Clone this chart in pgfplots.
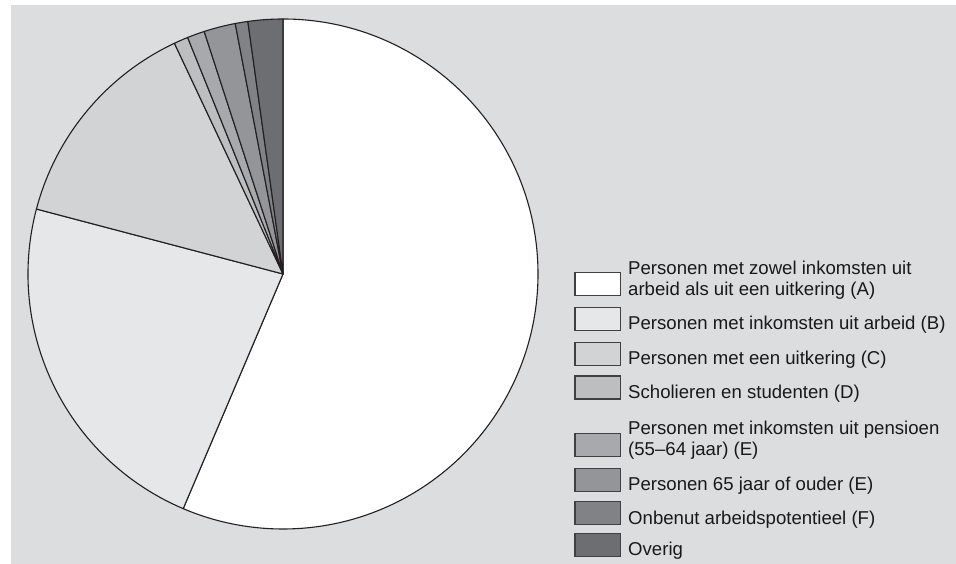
\documentclass[border=0pt]{standalone}
\usepackage{pgfplots}
\pgfplotsset{compat=1.18}
\usepackage{pgfplotstable}
\usepackage{fontspec}
\setmainfont{Liberation Sans}
\definecolor{bg}{RGB}{220,221,223}
\definecolor{c0}{RGB}{255,255,255}
\definecolor{c1}{RGB}{230,231,232}
\definecolor{c2}{RGB}{209,211,212}
\definecolor{c3}{RGB}{188,190,192}
\definecolor{c4}{RGB}{167,169,172}
\definecolor{c5}{RGB}{147,149,152}
\definecolor{c6}{RGB}{128,130,133}
\definecolor{c7}{RGB}{109,110,113}
\definecolor{edge}{RGB}{35,31,32}
% share of each group, percent (clockwise from the top)
\pgfplotstableread{
group value
A 56.4
B 22.7
C 13.9
D 0.9
E1 1.1
E2 2.0
F 0.8
Overig 2.2
}\piedata
\def\cum{90}
\pgfplotstableforeachcolumnelement{value}\of\piedata\as\v{%
  \pgfmathsetmacro\nxt{\cum-3.6*\v}%
  \expandafter\xdef\csname a\pgfplotstablerow\endcsname{\cum}%
  \expandafter\xdef\csname b\pgfplotstablerow\endcsname{\nxt}%
  \xdef\cum{\nxt}%
}
\begin{document}
\begin{tikzpicture}
\begin{axis}[
  x=1pt, y=1pt,
  xmin=0, xmax=956, ymin=0, ymax=564,
  hide axis, clip=false,
  at={(0,0)}, anchor=origin,
]
\path (axis cs:0,0) rectangle (axis cs:956,564);
\fill[bg] (axis cs:11,0) rectangle (axis cs:956,559);
\pgfplotsinvokeforeach{0,...,7}{%
  \filldraw[fill=c#1, draw=edge, line width=1.1pt, line join=round]
    (axis cs:283,290) -- ++(\csname a#1\endcsname:255pt)
    arc[start angle=\csname a#1\endcsname, end angle=\csname b#1\endcsname, radius=255pt] -- cycle;
}
\tikzset{lbox/.style={draw=black!75, line width=1.1pt}, ltxt/.style={anchor=base west, inner sep=0pt, font=\fontsize{18.6}{21.5}\selectfont, text=black!90}}
% legend
\filldraw[lbox, fill=c0] (axis cs:575,268.3) rectangle (axis cs:620.5,291.3);
\node[ltxt] at (axis cs:628,289.5) {Personen met zowel inkomsten uit};
\node[ltxt] at (axis cs:628,268) {arbeid als uit een uitkering (A)};
\filldraw[lbox, fill=c1] (axis cs:575,233.7) rectangle (axis cs:620.5,256.7);
\node[ltxt] at (axis cs:628,234) {Personen met inkomsten uit arbeid (B)};
\filldraw[lbox, fill=c2] (axis cs:575,198.7) rectangle (axis cs:620.5,221.7);
\node[ltxt] at (axis cs:628,199) {Personen met een uitkering (C)};
\filldraw[lbox, fill=c3] (axis cs:575,165) rectangle (axis cs:620.5,188);
\node[ltxt] at (axis cs:628,165.3) {Scholieren en studenten (D)};
\filldraw[lbox, fill=c4] (axis cs:575,107.7) rectangle (axis cs:620.5,130.7);
\node[ltxt] at (axis cs:628,129.5) {Personen met inkomsten uit pensioen};
\node[ltxt] at (axis cs:628,108) {(55–64 jaar) (E)};
\filldraw[lbox, fill=c5] (axis cs:575,72.7) rectangle (axis cs:620.5,95.7);
\node[ltxt] at (axis cs:628,73) {Personen 65 jaar of ouder (E)};
\filldraw[lbox, fill=c6] (axis cs:575,39.3) rectangle (axis cs:620.5,62.3);
\node[ltxt] at (axis cs:628,39.6) {Onbenut arbeidspotentieel (F)};
\filldraw[lbox, fill=c7] (axis cs:575,7.7) rectangle (axis cs:620.5,30.7);
\node[ltxt] at (axis cs:628,8) {Overig};
\end{axis}
\end{tikzpicture}
\end{document}
